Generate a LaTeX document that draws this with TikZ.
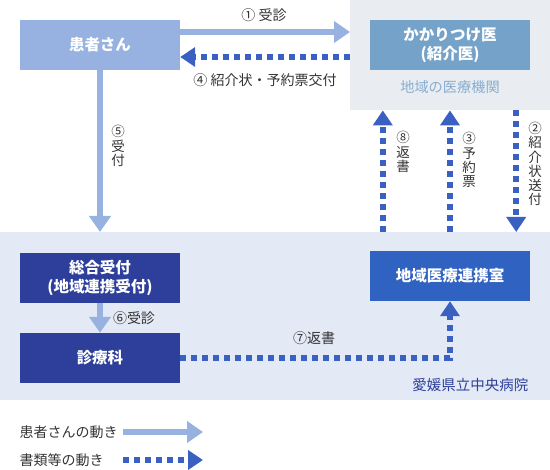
\documentclass[tikz,border=0pt]{standalone}
\usepackage{fontspec}
\setmainfont{Noto Sans CJK JP}
\usepackage{xcolor}
\usetikzlibrary{arrows.meta,positioning,calc}
\definecolor{patblue}{HTML}{97B1E0}
\definecolor{kakblue}{HTML}{74A2C8}
\definecolor{localgray}{HTML}{E9EDF1}
\definecolor{hospblue}{HTML}{E3EAF5}
\definecolor{navy}{HTML}{2D3F9B}
\definecolor{renblue}{HTML}{3062C2}
\definecolor{docblue}{HTML}{3A60C2}
\definecolor{areablue}{HTML}{88ADD0}
\definecolor{labelgray}{HTML}{333333}

\begin{document}
\begin{tikzpicture}[x=1pt,y=-1pt,
  every node/.style={font=\fontsize{14}{16}\selectfont,text=labelgray},
  box/.style={fill=#1,minimum width=160pt,minimum height=50pt,inner sep=0pt,
    text=white,align=center,font=\fontsize{15.5}{19}\selectfont\bfseries},
  bgbox/.style={fill=#1,inner sep=0pt,anchor=north west},
  patmove/.style={line width=6pt,draw=patblue,-{Triangle[length=16pt,width=21pt]}},
  docmove/.style={line width=6pt,draw=docblue,dash pattern=on 6pt off 5pt,
    -{Triangle[length=15pt,width=19pt]}},
  vlbl/.style={align=center,font=\fontsize{13.5}{14.2}\selectfont}
]
  \useasboundingbox (0,0) rectangle (550,470);
  \node[bgbox=localgray,minimum width=200pt,minimum height=110pt] (local) at (350,0) {};
  \node[bgbox=hospblue,minimum width=550pt,minimum height=168pt] (hosp) at (0,232) {};

  \node[box=patblue] (pat) at (100,45) {患者さん};
  \node[box=kakblue] (kak) at (450,45) {かかりつけ医\\(紹介医)};
  \node[text=areablue,font=\fontsize{14.2}{16}\selectfont] (areaname) at (450,87) {地域の医療機関};
  \node[box=navy] (sogo) at (100,278) {総合受付\\(地域連携受付)};
  \node[box=renblue] (ren) at (450,276) {地域医療連携室};
  \node[box=navy] (shin) at (100,358) {診療科};
  \node[text=navy,anchor=east,font=\fontsize{14.5}{16}\selectfont] (hname) at (532,385) {愛媛県立中央病院};

  \draw[patmove] ([yshift=13pt]pat.east) -- ([yshift=13pt]pat.east -| local.west);
  \node (lbl1) at (264,15) {① 受診};
  \draw[docmove] ([yshift=-12pt]pat.east -| local.west) -- ([yshift=-12pt]pat.east);
  \node (lbl4) at (265,80) {④ 紹介状・予約票交付};

  \draw[patmove] (pat.south) -- (pat.south |- hosp.north);
  \node[vlbl] (lbl5) at (118,146) {⑤\\受\\付};

  \draw[docmove] ([xshift=13pt]ren.west |- hosp.north) -- ([xshift=13pt]ren.west |- local.south);
  \node[vlbl] (lbl8) at (403,152) {⑧\\返\\書};
  \draw[docmove] (ren.north |- hosp.north) -- (ren.north |- local.south);
  \node[vlbl] (lbl3) at (469,160) {③\\予\\約\\票};
  \draw[docmove] ([xshift=-14pt]ren.east |- local.south) -- ([xshift=-14pt]ren.east |- hosp.north);
  \node[vlbl] (lbl2) at (535,164) {②\\紹\\介\\状\\送\\付};

  \draw[patmove] (sogo.south) -- (shin.north);
  \node (lbl6) at (134,318) {⑥受診};
  \draw[docmove] (shin.east) -| (ren.south);
  \node (lbl7) at (314,338) {⑦返書};

  \node[anchor=west] (leg1) at (16,432) {患者さんの動き};
  \node[anchor=west] (leg2) at (16,460) {書類等の動き};
  \coordinate (leg1start) at (123,432);
  \coordinate (leg1end) at (203,432);
  \coordinate (leg2start) at (123,460);
  \coordinate (leg2end) at (203,460);
  \draw[patmove] (leg1start) -- (leg1end);
  \draw[docmove] (leg2start) -- (leg2end);
\end{tikzpicture}
\end{document}
